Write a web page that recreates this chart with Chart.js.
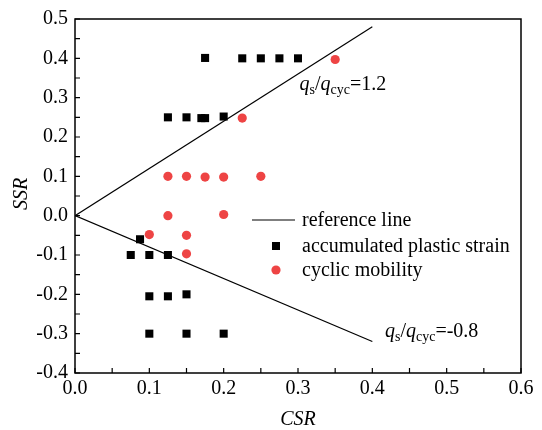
<!DOCTYPE html>
<html>
<head>
<meta charset="utf-8">
<script src="https://cdn.jsdelivr.net/npm/chart.js@4/dist/chart.umd.min.js"></script>
<style>
html,body{margin:0;padding:0;background:#fff;}
#wrap{width:542px;height:430px;}
</style>
</head>
<body>
<div id="wrap"><canvas id="c" width="542" height="430"></canvas></div>
<script>
// ---- data ----
const refCSR = [0, 0.4];
const refUpperSSR = [0, 0.48];   // qs/qcyc = 1.2
const refLowerSSR = [0, -0.32];  // qs/qcyc = -0.8

const apsCSR = [0.175, 0.225, 0.25, 0.275, 0.3, 0.125, 0.15, 0.17, 0.175, 0.2, 0.0875, 0.075, 0.1, 0.125, 0.1, 0.125, 0.15, 0.1, 0.15, 0.2];
const apsSSR = [0.401, 0.40, 0.40, 0.40, 0.40, 0.25, 0.25, 0.248, 0.248, 0.252, -0.06, -0.1, -0.1, -0.1, -0.205, -0.205, -0.2, -0.3, -0.3, -0.3];

const cmCSR = [0.35, 0.225, 0.125, 0.15, 0.175, 0.2, 0.25, 0.125, 0.2, 0.1, 0.15, 0.15];
const cmSSR = [0.397, 0.248, 0.1, 0.1, 0.098, 0.098, 0.1, 0.0, 0.003, -0.048, -0.05, -0.097];

const xTicks = [0, 0.1, 0.2, 0.3, 0.4, 0.5, 0.6];
const yTicks = [-0.4, -0.3, -0.2, -0.1, 0, 0.1, 0.2, 0.3, 0.4, 0.5];
const legendLabels = ['reference line', 'accumulated plastic strain', 'cyclic mobility'];

const RED = '#EE4444';
const FONT = '"Liberation Serif", "Times New Roman", serif';

const pts = (xs, ys) => xs.map((x, i) => ({x: x, y: ys[i]}));

const decor = {
  id: 'decor',
  afterDatasetsDraw(chart) {
    const ctx = chart.ctx;
    const xs = chart.scales.x, ys = chart.scales.y;
    const {left, right, top, bottom} = chart.chartArea;
    ctx.save();
    // frame
    ctx.strokeStyle = '#000';
    ctx.lineWidth = 1.5;
    ctx.strokeRect(left, top, right - left, bottom - top);
    // ticks (inward, every 0.05)
    ctx.lineWidth = 1.2;
    ctx.beginPath();
    for (let i = 0; i <= 12; i++) {
      const px = xs.getPixelForValue(i * 0.05);
      ctx.moveTo(px, bottom); ctx.lineTo(px, bottom - 5);
    }
    for (let i = 0; i <= 18; i++) {
      const py = ys.getPixelForValue(-0.4 + i * 0.05);
      ctx.moveTo(left, py); ctx.lineTo(left + 5, py);
    }
    ctx.stroke();

    // axis titles
    ctx.fillStyle = '#000';
    ctx.font = 'italic 20px ' + FONT;
    ctx.textAlign = 'center';
    ctx.textBaseline = 'middle';
    ctx.fillText('CSR', (left + right) / 2, 420);
    ctx.save();
    ctx.translate(22, (top + bottom) / 2 - 2);
    ctx.rotate(-Math.PI / 2);
    ctx.fillText('SSR', 0, 0);
    ctx.restore();

    // annotations
    function ratioLabel(x, y, val) {
      ctx.textAlign = 'left';
      ctx.textBaseline = 'alphabetic';
      let cx = x;
      const parts = [
        ['italic 20px ' + FONT, 'q', 0],
        ['14px ' + FONT, 's', 4],
        ['20px ' + FONT, '/', 0],
        ['italic 20px ' + FONT, 'q', 0],
        ['14px ' + FONT, 'cyc', 4],
        ['20px ' + FONT, '=' + val, 0]
      ];
      parts.forEach(p => {
        ctx.font = p[0];
        ctx.fillText(p[1], cx, y + p[2]);
        cx += ctx.measureText(p[1]).width;
      });
    }
    ratioLabel(xs.getPixelForValue(0.302), ys.getPixelForValue(0.32), '1.2');
    ratioLabel(xs.getPixelForValue(0.417), ys.getPixelForValue(-0.309), '-0.8');

    // legend
    ctx.font = '20px ' + FONT;
    ctx.textAlign = 'left';
    ctx.textBaseline = 'middle';
    const lx = 252, tx = 302;
    const ly = [220, 246, 270];
    ctx.strokeStyle = '#000';
    ctx.lineWidth = 1.2;
    ctx.beginPath(); ctx.moveTo(lx, ly[0]); ctx.lineTo(295, ly[0]); ctx.stroke();
    ctx.fillStyle = '#000';
    ctx.fillRect(272, ly[1] - 4, 8, 8);
    ctx.fillStyle = RED;
    ctx.beginPath(); ctx.arc(276, ly[2], 4.6, 0, Math.PI * 2); ctx.fill();
    ctx.fillStyle = '#000';
    legendLabels.forEach((t, i) => ctx.fillText(t, tx, ly[i] + 1));
    ctx.restore();
  }
};

new Chart(document.getElementById('c'), {
  type: 'scatter',
  data: {
    datasets: [
      {label: 'ref1', data: pts(refCSR, refUpperSSR), showLine: true, borderColor: '#000', borderWidth: 1.2, pointRadius: 0, fill: false},
      {label: 'ref2', data: pts(refCSR, refLowerSSR), showLine: true, borderColor: '#000', borderWidth: 1.2, pointRadius: 0, fill: false},
      {label: legendLabels[1], data: pts(apsCSR, apsSSR), pointStyle: 'rect', pointRadius: 5.7, backgroundColor: '#000', borderColor: '#000', borderWidth: 0},
      {label: legendLabels[2], data: pts(cmCSR, cmSSR), pointStyle: 'circle', pointRadius: 4.6, backgroundColor: RED, borderColor: RED, borderWidth: 0}
    ]
  },
  options: {
    responsive: false,
    animation: false,
    devicePixelRatio: 1,
    layout: {padding: {top: 16, right: 21, left: 0, bottom: 0}},
    plugins: {legend: {display: false}, tooltip: {enabled: false}},
    scales: {
      x: {
        type: 'linear', min: 0, max: 0.6,
        afterFit(s) { s.height = 57; },
        afterBuildTicks(s) { s.ticks = xTicks.map(v => ({value: v})); },
        grid: {display: false, drawTicks: false},
        border: {display: false},
        ticks: {color: '#000', padding: 4, font: {family: FONT, size: 20}, maxRotation: 0,
          callback: v => v.toFixed(1)}
      },
      y: {
        type: 'linear', min: -0.4, max: 0.5,
        afterFit(s) { s.width = 75; },
        afterBuildTicks(s) { s.ticks = yTicks.map(v => ({value: v})); },
        grid: {display: false, drawTicks: false},
        border: {display: false},
        ticks: {color: '#000', padding: 7, font: {family: FONT, size: 20},
          callback: v => v.toFixed(1)}
      }
    }
  },
  plugins: [decor]
});
</script>
</body>
</html>
